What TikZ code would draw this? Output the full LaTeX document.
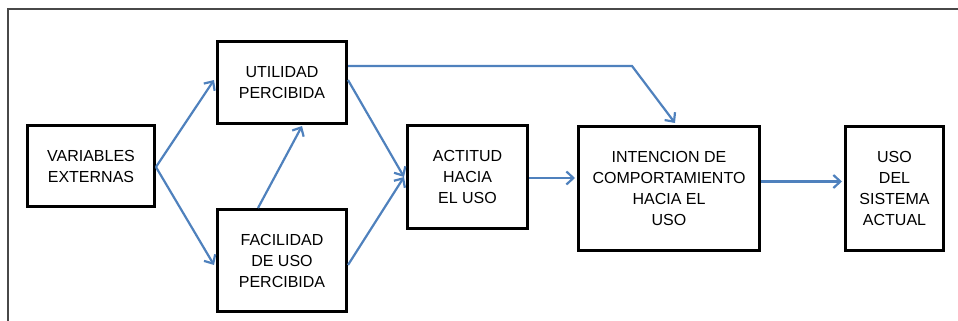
\documentclass[tikz,border=0pt]{standalone}
\usepackage{fontspec}
\setmainfont{Liberation Sans}
\usetikzlibrary{arrows.meta}
\definecolor{flowblue}{RGB}{79,129,189}
\definecolor{framegray}{RGB}{72,72,72}
\tikzset{
  stagebox/.style={draw=black, line width=2.7pt, rectangle, align=center,
    font=\fontsize{16}{21}\selectfont, inner sep=0pt},
  flow/.style={draw=flowblue, line width=2.2pt,
    -{Straight Barb[length=7pt,width=13pt,line width=2.2pt]}},
}
\begin{document}
\begin{tikzpicture}[x=1pt,y=-1pt]
\useasboundingbox (0,0) rectangle (958,321);
% page frame
\draw[framegray, line width=1.4pt] (958,9) -- (8,9) -- (8,321);

% stages of the model
\node[stagebox, minimum width=127.2pt, minimum height=81.2pt] (ve) at (91,166)
  {VARIABLES\\EXTERNAS};
\node[stagebox, minimum width=129.3pt, minimum height=82.3pt] (ut) at (282,82.5)
  {UTILIDAD\\PERCIBIDA};
\node[stagebox, minimum width=129.3pt, minimum height=102.3pt] (fa) at (282,260.5)
  {FACILIDAD\\DE USO\\PERCIBIDA};
\node[stagebox, minimum width=120.3pt, minimum height=103.3pt] (ac) at (467.5,177)
  {ACTITUD\\HACIA\\EL USO};
\node[stagebox, minimum width=181.3pt, minimum height=124.3pt] (in) at (669,188.5)
  {INTENCION DE\\COMPORTAMIENTO\\HACIA EL\\USO};
\node[stagebox, minimum width=98.3pt, minimum height=124.3pt] (us) at (894.5,188.5)
  {USO\\DEL\\SISTEMA\\ACTUAL};

% connection points on the box edges
\coordinate (veout) at ([yshift=-1pt]ve.east);
\coordinate (utin)  at ([xshift=-2pt,yshift=2.5pt]ut.west);
\coordinate (fain)  at ([xshift=-2pt,yshift=-4.5pt]fa.west);
\coordinate (faup)  at ([xshift=-24pt]fa.north);
\coordinate (utlow) at ([xshift=20pt,yshift=-1pt]ut.south);
\coordinate (utout) at ([yshift=2.5pt]ut.east);
\coordinate (faout) at ([yshift=-4.5pt]fa.east);
\coordinate (acin)  at ([xshift=-2pt]ac.west);
\coordinate (uttop) at ([yshift=16.5pt]ut.east);
\coordinate (bend)  at (632,66);
\coordinate (intop) at ([xshift=6pt,yshift=2pt]in.north);
\coordinate (acout) at ([yshift=-1pt]ac.east);
\coordinate (inout) at ([yshift=7pt]in.east);

% connectors
\draw[flow] (veout) -- (utin);
\draw[flow] (veout) -- (fain);
\draw[flow] (faup) -- (utlow);
\draw[flow] (utout) -- (acin);
\draw[flow] (faout) -- (acin);
\draw[flow] (uttop) -- (bend) -- (intop);
\draw[flow, shorten >=2pt] (acout) -- (acout -| in.west);
\draw[flow, shorten >=2pt] (inout) -- (inout -| us.west);
\end{tikzpicture}
\end{document}
